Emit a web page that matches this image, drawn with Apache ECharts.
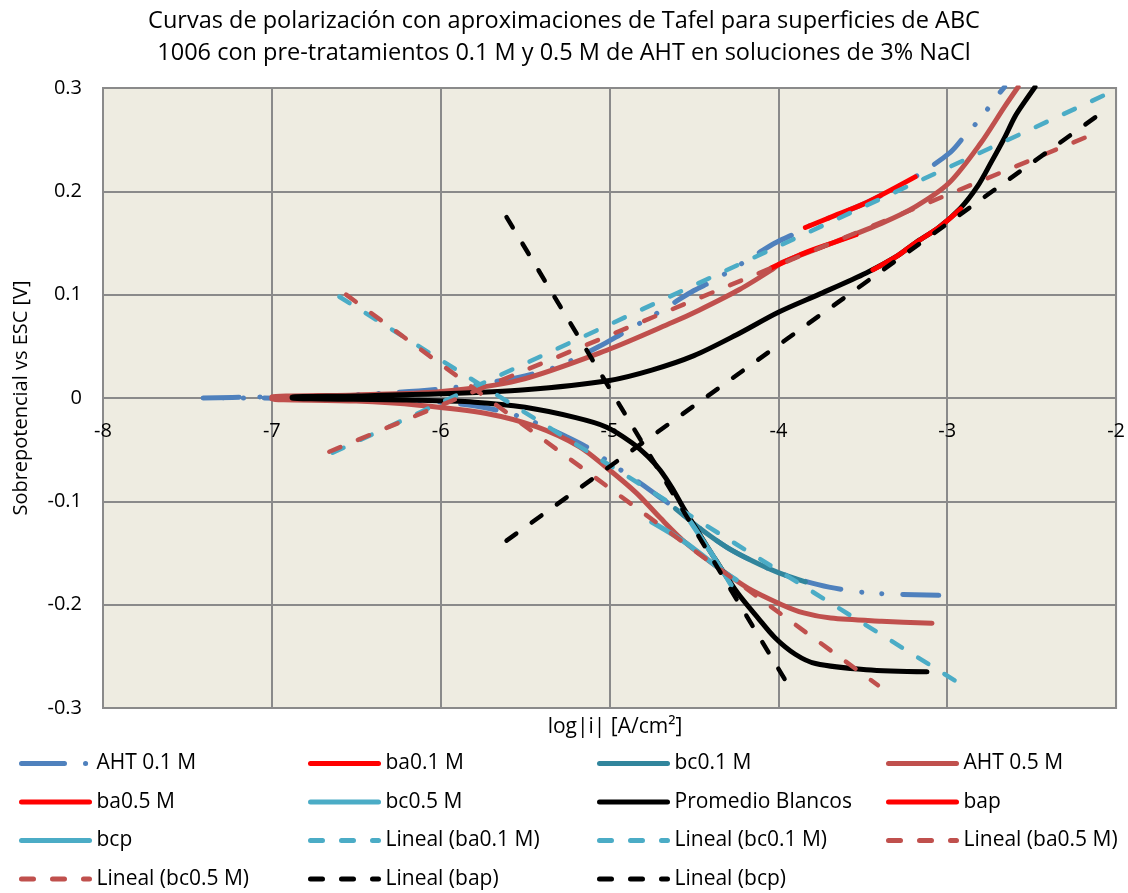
<!DOCTYPE html>
<html>
<head>
<meta charset="utf-8">
<title>Curvas de polarización</title>
<script src="https://cdn.jsdelivr.net/npm/echarts@6/dist/echarts.min.js"></script>
<style>
  html, body { margin: 0; padding: 0; background: #ffffff; }
  #chart { width: 1128px; height: 893px; }
</style>
</head>
<body>
<div id="chart"></div>
<script>
// Polarization curves: [log|i|, overpotential V], cathodic end -> Ecorr -> anodic end
const aht01 = [
  [-3.05,-0.191],[-3.30,-0.190],[-3.50,-0.188],[-3.70,-0.183],[-3.85,-0.177],[-4.00,-0.169],
  [-4.15,-0.158],[-4.30,-0.145],[-4.45,-0.128],[-4.60,-0.108],[-4.72,-0.094],[-4.83,-0.081],
  [-4.93,-0.070],[-5.02,-0.060],[-5.14,-0.047],[-5.26,-0.037],[-5.38,-0.028],[-5.55,-0.017],
  [-5.75,-0.009],[-6.00,-0.004],[-6.30,-0.002],[-6.70,-0.001],[-7.10,0.000],[-7.41,0.000],
  [-7.10,0.001],[-6.70,0.002],[-6.30,0.005],[-5.93,0.010],[-5.54,0.020],[-5.30,0.031],
  [-5.06,0.050],[-4.94,0.061],[-4.74,0.080],[-4.62,0.092],[-4.50,0.104],[-4.38,0.114],
  [-4.13,0.139],[-4.02,0.150],[-3.89,0.160],[-3.84,0.165],[-3.48,0.189],[-3.19,0.214],
  [-2.98,0.238],[-2.89,0.255],[-2.80,0.271],[-2.72,0.289],[-2.66,0.301]
];
const aht05 = [
  [-3.09,-0.218],[-3.39,-0.216],[-3.69,-0.213],[-3.85,-0.208],[-3.98,-0.200],[-4.18,-0.184],
  [-4.35,-0.165],[-4.55,-0.140],[-4.70,-0.116],[-4.84,-0.092],[-5.02,-0.067],[-5.18,-0.047],
  [-5.43,-0.028],[-5.73,-0.015],[-6.13,-0.007],[-6.50,-0.003],[-7.00,-0.001],
  [-7.00,0.001],[-6.50,0.003],[-6.01,0.006],[-5.54,0.017],[-5.02,0.046],[-4.63,0.073],
  [-4.47,0.085],[-4.23,0.105],[-4.04,0.124],[-3.98,0.131],[-3.68,0.150],[-3.39,0.169],
  [-3.19,0.185],[-2.99,0.208],[-2.80,0.247],[-2.66,0.282],[-2.58,0.301]
];
const blancos = [
  [-3.12,-0.265],[-3.48,-0.263],[-3.78,-0.257],[-3.90,-0.248],[-4.02,-0.232],[-4.12,-0.213],
  [-4.24,-0.189],[-4.37,-0.157],[-4.47,-0.131],[-4.56,-0.107],[-4.63,-0.087],[-4.70,-0.070],
  [-4.77,-0.057],[-4.87,-0.043],[-5.02,-0.028],[-5.20,-0.019],[-5.50,-0.009],[-5.80,-0.004],
  [-6.20,-0.002],[-6.88,0.000],
  [-6.88,0.001],[-6.50,0.002],[-6.00,0.004],[-5.50,0.008],[-5.00,0.017],[-4.75,0.027],
  [-4.50,0.041],[-4.25,0.061],[-4.00,0.083],[-3.75,0.101],[-3.48,0.121],[-3.30,0.137],
  [-3.19,0.150],[-3.05,0.165],[-2.92,0.184],[-2.82,0.205],[-2.74,0.228],[-2.66,0.252],
  [-2.60,0.272],[-2.54,0.287],[-2.48,0.301]
];

// Tafel fitting ranges
const ba01 = [[-3.84,0.165],[-3.66,0.177],[-3.48,0.189],[-3.19,0.214]];
const bc01 = [[-4.61,-0.107],[-4.45,-0.128],[-4.30,-0.145],[-4.15,-0.158],[-4.00,-0.169],[-3.84,-0.178]];
const ba05 = [[-4.04,0.126],[-3.85,0.140],[-3.68,0.150],[-3.54,0.158]];
const bc05 = [[-4.75,-0.120],[-4.55,-0.140],[-4.35,-0.165],[-4.25,-0.176]];
const bap  = [[-3.44,0.124],[-3.30,0.137],[-3.19,0.150],[-3.05,0.165],[-2.92,0.183]];
const bcp  = [[-4.52,-0.120],[-4.37,-0.157],[-4.28,-0.181]];

// Linear trend lines (start and end of each fit)
const linBa01 = [[-6.64,-0.053],[-2.07,0.293]];
const linBc01 = [[-6.60,0.098],[-2.89,-0.280]];
const linBa05 = [[-6.66,-0.052],[-2.11,0.257]];
const linBc05 = [[-6.56,0.100],[-3.41,-0.278]];
const linBap  = [[-5.61,-0.138],[-2.12,0.272]];
const linBcp  = [[-5.61,0.175],[-3.93,-0.281]];

// Axis ranges
const xRange = { min: -8, max: -2, interval: 1 };
const yRange = { min: -0.3, max: 0.3, interval: 0.1 };

const FONT = 'Open Sans';
const C = {
  blue: '#4F81BD', red: '#FF0000', teal: '#31859C', brick: '#C0504D',
  sky: '#4BACC6', black: '#000000'
};
const DASH = [12, 19];
const DASHDOT = [36, 21, 0.1, 20, 0.1, 21];

function series(name, data, color, width, type, smooth) {
  return {
    name: name,
    type: 'line',
    data: data,
    symbol: 'none',
    showSymbol: false,
    smooth: smooth || false,
    animation: false,
    lineStyle: { color: color, width: width, type: type, cap: 'round', join: 'round' },
    itemStyle: { color: color },
    emphasis: { disabled: true }
  };
}

const seriesList = [
  series('AHT 0.1 M', aht01, C.blue, 5, DASHDOT, 0.3),
  series('ba0.1 M', ba01, C.red, 5, 'solid', 0.3),
  series('bc0.1 M', bc01, C.teal, 5, 'solid', 0.3),
  series('AHT 0.5 M', aht05, C.brick, 5, 'solid', 0.3),
  series('ba0.5 M', ba05, C.red, 5, 'solid', 0.3),
  series('bc0.5 M', bc05, C.sky, 5, 'solid', 0.3),
  series('Promedio Blancos', blancos, C.black, 5, 'solid', 0.3),
  series('bap', bap, C.red, 5, 'solid', 0.3),
  series('bcp', bcp, C.sky, 5, 'solid', 0.3),
  series('Lineal (ba0.1 M)', linBa01, C.sky, 4.5, DASH),
  series('Lineal (bc0.1 M)', linBc01, C.sky, 4.5, DASH),
  series('Lineal (ba0.5 M)', linBa05, C.brick, 4.5, DASH),
  series('Lineal (bc0.5 M)', linBc05, C.brick, 4.5, DASH),
  series('Lineal (bap)', linBap, C.black, 4.5, DASH),
  series('Lineal (bcp)', linBcp, C.black, 4.5, DASH)
];

const legendCols = [
  ['AHT 0.1 M', 'ba0.5 M', 'bcp', 'Lineal (bc0.5 M)'],
  ['ba0.1 M', 'bc0.5 M', 'Lineal (ba0.1 M)', 'Lineal (bap)'],
  ['bc0.1 M', 'Promedio Blancos', 'Lineal (bc0.1 M)', 'Lineal (bcp)'],
  ['AHT 0.5 M', 'bap', 'Lineal (ba0.5 M)']
];
const legendLeft = [19, 308, 597, 886];

const legends = legendCols.map(function (names, i) {
  return {
    orient: 'vertical',
    left: legendLeft[i],
    top: 752,
    height: 141,
    padding: 0,
    itemWidth: 68,
    itemHeight: 14,
    itemGap: 15.5,
    selectedMode: false,
    data: names.map(function (n) {
      const item = { name: n };
      if (n === 'AHT 0.1 M') item.lineStyle = { type: [43, 21, 0.1, 40] };
      return item;
    }),
    itemStyle: { opacity: 0 },
    lineStyle: { width: 5, cap: 'round' },
    textStyle: { fontFamily: FONT, fontSize: 21, color: '#000', padding: [0, 0, 0, 2], lineHeight: 23 }
  };
});

const chart = echarts.init(document.getElementById('chart'), null, { renderer: 'canvas' });
chart.setOption({
  backgroundColor: '#ffffff',
  animation: false,
  title: [{
    text: 'Curvas de polarización con aproximaciones de Tafel para superficies de ABC\n1006 con pre-tratamientos 0.1 M y 0.5 M de AHT en soluciones de 3% NaCl',
    left: 'center',
    top: 0,
    textStyle: { fontFamily: FONT, fontSize: 23.5, fontWeight: 'normal', color: '#000', lineHeight: 32, align: 'center' }
  }, {
    text: 'log|i| [A/cm²]',
    left: 610,
    top: 712,
    textAlign: 'center',
    textStyle: { fontFamily: FONT, fontSize: 21, fontWeight: 'normal', color: '#000' }
  }],
  legend: legends,
  grid: {
    left: 103, top: 88, right: 11, bottom: 185,
    show: true, backgroundColor: '#EEECE1', borderColor: '#8A8A8A', borderWidth: 2
  },
  xAxis: {
    type: 'value',
    position: 'bottom',
    offset: -310,
    min: xRange.min, max: xRange.max, interval: xRange.interval,
    axisLine: { onZero: false, lineStyle: { color: '#8A8A8A', width: 2 } },
    axisTick: { show: false },
    axisLabel: { fontFamily: FONT, fontSize: 20, color: '#000', margin: 23 },
    splitLine: { show: true, lineStyle: { color: '#8A8A8A', width: 2 } }
  },
  yAxis: {
    type: 'value',
    min: yRange.min, max: yRange.max, interval: yRange.interval,
    name: 'Sobrepotencial vs ESC [V]',
    nameLocation: 'middle',
    nameGap: 72,
    nameRotate: 90,
    nameTextStyle: { fontFamily: FONT, fontSize: 20, color: '#000' },
    axisLine: { show: true, lineStyle: { color: '#8A8A8A', width: 2 } },
    axisTick: { show: false },
    axisLabel: {
      fontFamily: FONT, fontSize: 20, color: '#000', margin: 21,
      formatter: function (v) { return String(Math.round(v * 10) / 10); }
    },
    splitLine: { show: true, lineStyle: { color: '#8A8A8A', width: 2 } }
  },
  series: seriesList
});
</script>
</body>
</html>
